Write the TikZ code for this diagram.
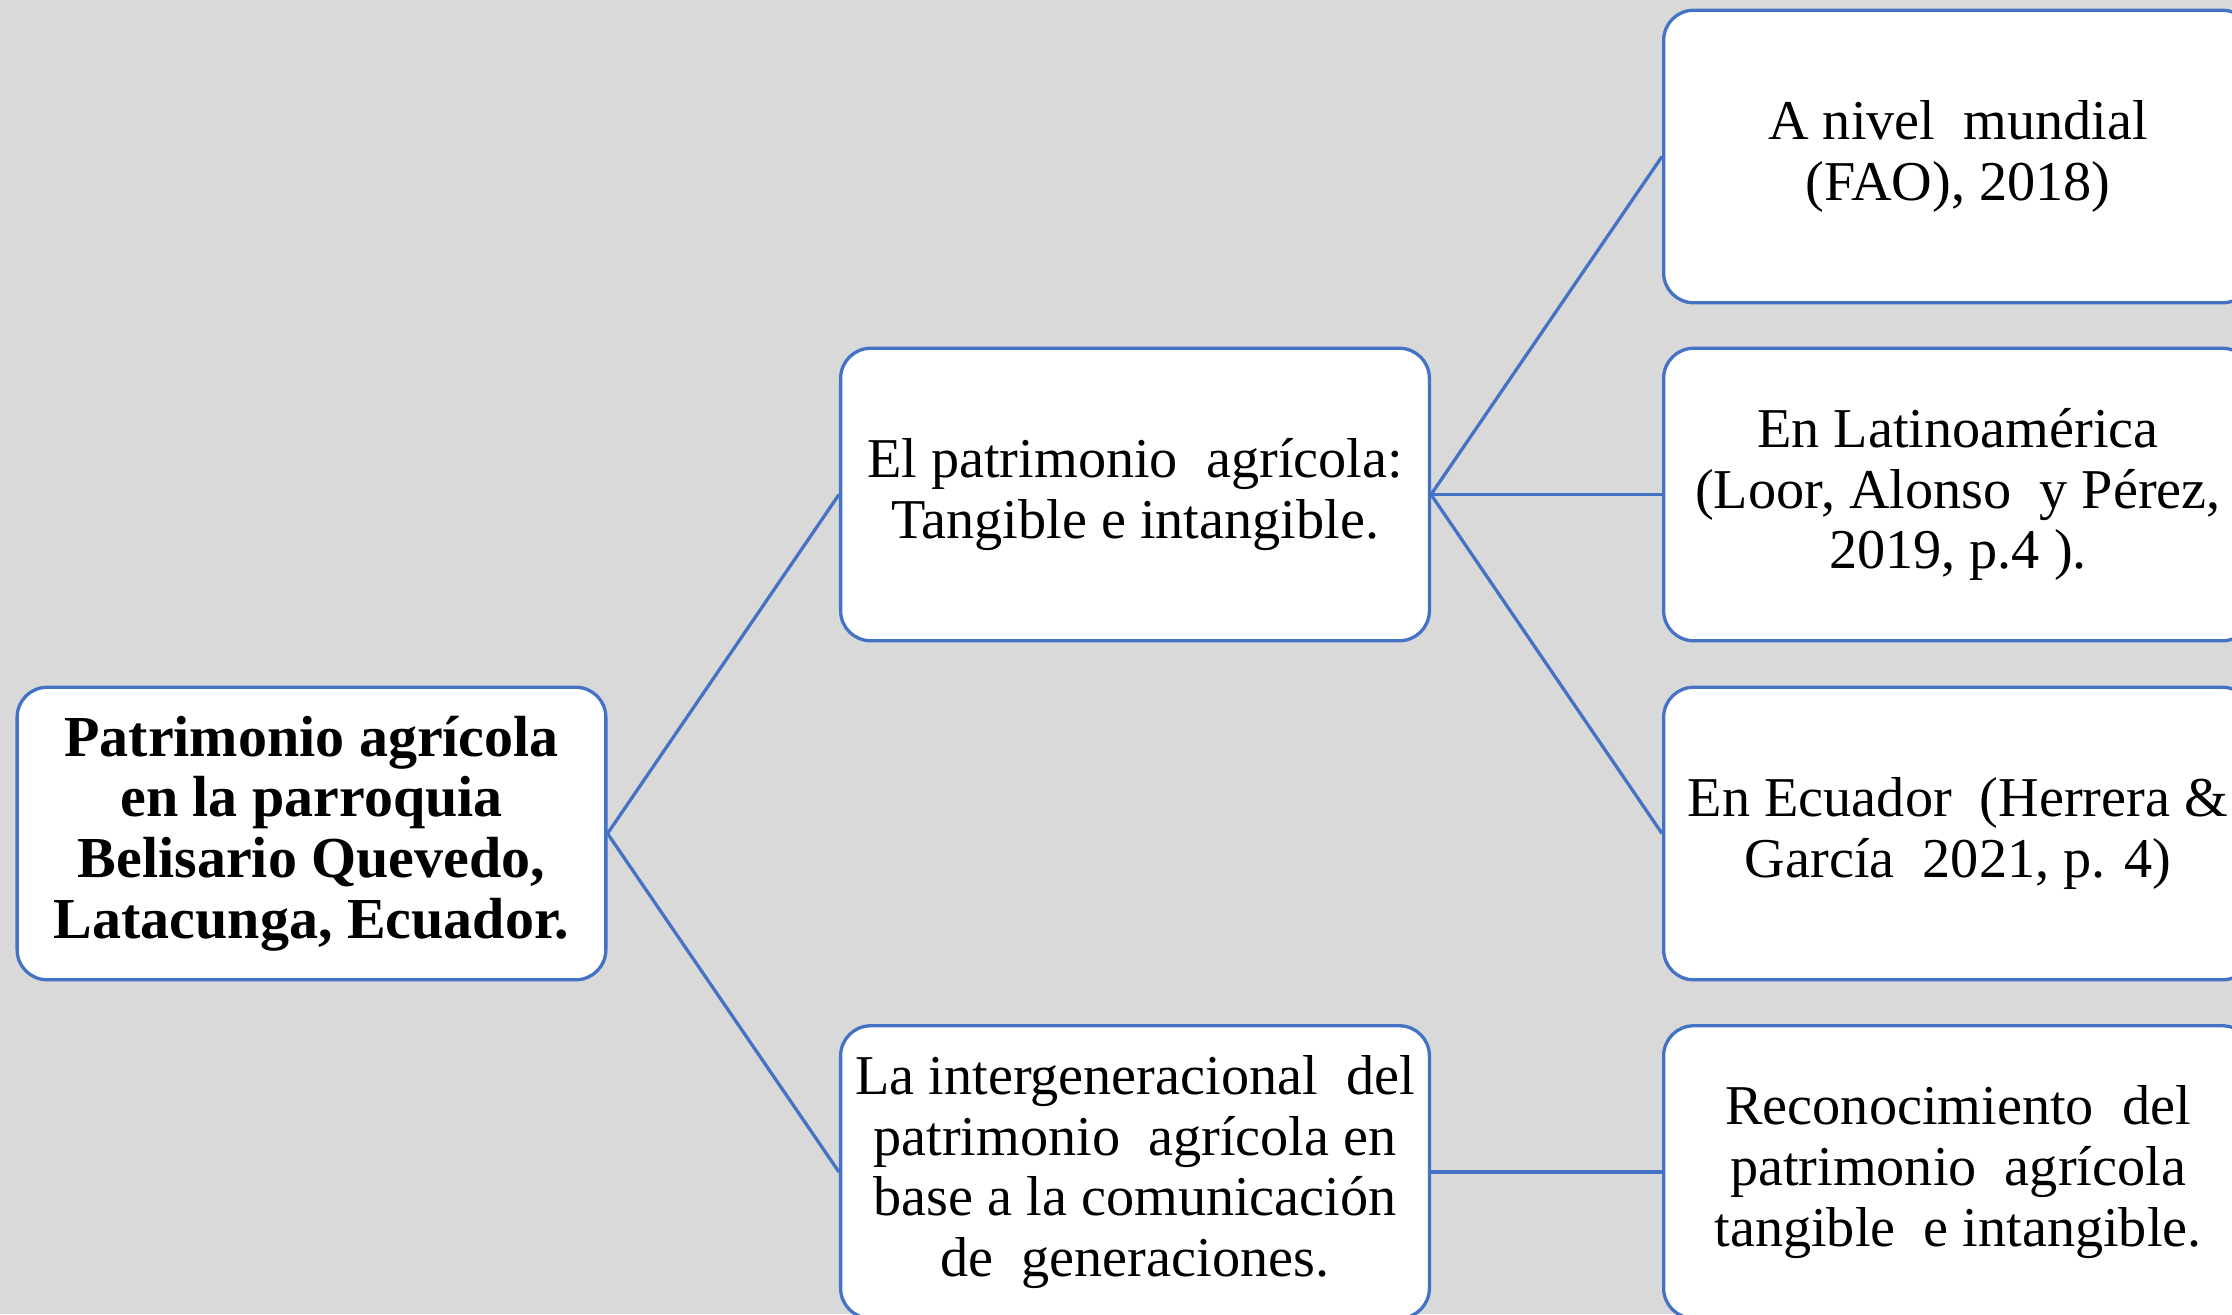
\documentclass[tikz,border=0pt]{standalone}
\usepackage{fontspec}
\setmainfont{Liberation Serif}
\usetikzlibrary{positioning}
\definecolor{boxblue}{HTML}{4472C4}
\definecolor{pagegray}{HTML}{D9D9D9}
\tikzset{
    caja/.style={draw=boxblue, line width=0.75pt, fill=white, rounded corners=0.24cm,
        minimum width=4.71cm, minimum height=2.34cm, inner sep=2pt, align=center,
        font=\fontsize{12.8}{13.8}\selectfont},
    cajaraiz/.style={caja, font=\fontsize{13.2}{13.8}\selectfont\bfseries},
    enlace/.style={draw=boxblue, line width=0.75pt},
}
\newcommand\Enlace[2]{%
    \draw[enlace] (#1.east) -- (#2.west);
}
\begin{document}
\begin{tikzpicture}
    \fill[pagegray] (0,0) rectangle (17.856,-10.512);
    \useasboundingbox (0,0) rectangle (17.856,-10.512);
    \clip (0,0) rectangle (17.856,-10.512);
    % raiz
    \node[cajaraiz] (raiz) at (2.492,-6.668)
        {Patrimonio agrícola\\en la parroquia\\Belisario Quevedo,\\Latacunga, Ecuador.};
    % segundo nivel
    \node[caja] (tangible) at (9.08,-3.956)
        {El patrimonio\ \ agrícola:\\Tangible e intangible.};
    \node[caja] (interg) at (9.08,-9.376)
        {La intergeneracional\ \ del\\patrimonio\ \ agrícola en\\base a la comunicación\\de\ \ generaciones.};
    % tercer nivel
    \node[caja] (mundial) at (15.664,-1.252) {A nivel\ \ mundial\\(FAO), 2018)};
    \node[caja] (latam) at (15.664,-3.956)
        {En Latinoamérica\\(Loor, Alonso\ \ y Pérez,\\2019, p.4 ).};
    \node[caja] (ecuador) at (15.664,-6.668)
        {En Ecuador\ \ (Herrera \&\\García\ \ 2021, p. 4)};
    \node[caja] (reconoc) at (15.664,-9.376)
        {Reconocimiento\ \ del\\patrimonio\ \ agrícola\\tangible\ \ e intangible.};
    % conectores
    \Enlace{raiz}{tangible}
    \Enlace{raiz}{interg}
    \Enlace{tangible}{mundial}
    \Enlace{tangible}{latam}
    \Enlace{tangible}{ecuador}
    \Enlace{interg}{reconoc}
\end{tikzpicture}
\end{document}
